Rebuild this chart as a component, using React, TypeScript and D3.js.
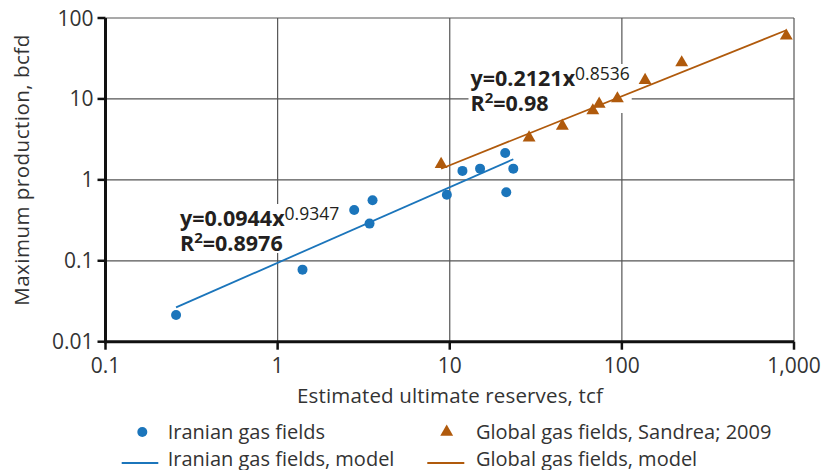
import React, { useLayoutEffect, useRef, useState } from "react";
import * as d3 from "d3";

// Iranian gas fields: estimated ultimate reserves (tcf) and max production (bcfd)
const iranReserves = [0.257, 1.395, 2.785, 3.56, 3.42, 9.62, 11.85, 15.0, 21.0, 21.3, 23.4];
const iranProduction = [0.0214, 0.0777, 0.425, 0.56, 0.288, 0.656, 1.29, 1.375, 2.15, 0.703, 1.375];

// Global gas fields (Sandrea, 2009)
const globalReserves = [8.91, 28.9, 45.1, 67.8, 73.8, 94.2, 136.4, 222.6, 902];
const globalProduction = [1.56, 3.32, 4.64, 7.17, 8.67, 10.1, 17.0, 28.1, 60.1];

// Power-law models y = a * x^b
const iranModel = { a: 0.0944, b: 0.9347, r2: "0.8976" };
const globalModel = { a: 0.2121, b: 0.8536, r2: "0.98" };

const xTicks = [0.1, 1, 10, 100, 1000];
const xTickLabels = ["0.1", "1", "10", "100", "1,000"];
const yTicks = [0.01, 0.1, 1, 10, 100];
const yTickLabels = ["0.01", "0.1", "1", "10", "100"];

const BLUE = "#1b75bb";
const BROWN = "#b05a0c";
const GRID = "#555";
const FONT = "'Open Sans', 'Noto Sans', sans-serif";

const W = 821;
const H = 470;
const M = { left: 105.5, right: 794, top: 18, bottom: 341.7 };

export default function App() {
  const x = d3.scaleLog().domain([0.1, 1000]).range([M.left, M.right]);
  const y = d3.scaleLog().domain([0.01, 100]).range([M.bottom, M.top]);

  const line = d3
    .line<number[]>()
    .x((d) => x(d[0]))
    .y((d) => y(d[1]));

  const modelPts = (m: { a: number; b: number }, xs: number[]) => {
    const [lo, hi] = d3.extent(xs) as [number, number];
    return [lo, hi].map((v) => [v, m.a * Math.pow(v, m.b)]);
  };

  const ann1 = useRef<SVGTextElement>(null);
  const ann2 = useRef<SVGTextElement>(null);
  const [boxes, setBoxes] = useState<any[]>([]);
  useLayoutEffect(() => {
    const b = [ann1.current, ann2.current].map((el) => {
      const bb = el!.getBBox();
      return { x: bb.x - 2, y: bb.y + 3, w: bb.width + 4, h: bb.height - 7 };
    });
    setBoxes(b);
  }, []);

  const tri = d3.symbol().type(d3.symbolTriangle).size(72)();

  return (
    <svg
      width={W}
      height={H}
      style={{ position: "absolute", left: 0, top: 0, background: "#fff" }}
      fontFamily={FONT}
    >
      {/* grid */}
      {xTicks.slice(1).map((t) => (
        <line key={"gx" + t} x1={x(t)} x2={x(t)} y1={M.top} y2={M.bottom} stroke={GRID} strokeWidth={1.2} />
      ))}
      {yTicks.slice(1).map((t) => (
        <line key={"gy" + t} x1={M.left} x2={M.right} y1={y(t)} y2={y(t)} stroke={GRID} strokeWidth={1.2} />
      ))}

      {/* annotation backgrounds */}
      {boxes.map((b, i) => (
        <rect key={"bx" + i} x={b.x} y={b.y} width={b.w} height={b.h} fill="#fff" />
      ))}

      {/* models */}
      <path d={line(modelPts(iranModel, iranReserves))!} stroke={BLUE} strokeWidth={1.8} fill="none" />
      <path d={line(modelPts(globalModel, globalReserves))!} stroke={BROWN} strokeWidth={1.8} fill="none" />

      {/* points */}
      {iranReserves.map((r, i) => (
        <circle key={"c" + i} cx={x(r)} cy={y(iranProduction[i])} r={5} fill={BLUE} />
      ))}
      {globalReserves.map((r, i) => (
        <path key={"t" + i} d={tri!} transform={`translate(${x(r)},${y(globalProduction[i])})`} fill={BROWN} />
      ))}

      {/* axes */}
      <line x1={M.left} x2={M.left} y1={M.top} y2={M.bottom + 1.5} stroke="#111" strokeWidth={3} />
      <line x1={M.left - 1.5} x2={M.right} y1={M.bottom} y2={M.bottom} stroke="#111" strokeWidth={3} />
      {yTicks.map((t, i) => (
        <g key={"yt" + t}>
          <line x1={M.left - 8} x2={M.left} y1={y(t)} y2={y(t)} stroke="#111" strokeWidth={2.5} />
          <text x={M.left - 12} y={y(t)} dy="0.36em" textAnchor="end" fontSize={21} fill="#333">
            {yTickLabels[i]}
          </text>
        </g>
      ))}
      {xTicks.map((t, i) => (
        <g key={"xt" + t}>
          <line x1={x(t)} x2={x(t)} y1={M.bottom} y2={M.bottom + 8} stroke="#111" strokeWidth={2.5} />
          <text x={x(t)} y={373} textAnchor="middle" fontSize={21} fill="#333">
            {xTickLabels[i]}
          </text>
        </g>
      ))}

      {/* axis titles */}
      <text x={450} y={403} textAnchor="middle" fontSize={20.5} letterSpacing={0.15} fill="#333">
        Estimated ultimate reserves, tcf
      </text>
      <text
        transform={`translate(29,170) rotate(-90)`}
        textAnchor="middle"
        fontSize={20.5}
        letterSpacing={0.5}
        fill="#333"
      >
        Maximum production, bcfd
      </text>

      {/* annotations */}
      <text ref={ann1} fontWeight="bold" fontSize={21.5} fill="#231f20">
        <tspan x={180} y={226}>
          y={iranModel.a}x<tspan dy={-6} fontSize={17.5} fontWeight="normal">{iranModel.b}</tspan>
        </tspan>
        <tspan x={180} y={251}>
          R<tspan dy={-8} fontSize={15}>2</tspan>
          <tspan dy={8}>={iranModel.r2}</tspan>
        </tspan>
      </text>
      <text ref={ann2} fontWeight="bold" fontSize={21.5} fill="#231f20">
        <tspan x={470.5} y={86}>
          y={globalModel.a}x<tspan dy={-6} fontSize={17.5} fontWeight="normal">{globalModel.b}</tspan>
        </tspan>
        <tspan x={470.5} y={111}>
          R<tspan dy={-8} fontSize={15}>2</tspan>
          <tspan dy={8}>={globalModel.r2}</tspan>
        </tspan>
      </text>

      {/* legend */}
      <g fontSize={20} fill="#333">
        <circle cx={142.3} cy={432} r={5} fill={BLUE} />
        <text x={167.7} y={438.5}>Iranian gas fields</text>
        <line x1={121.7} x2={158.3} y1={463} y2={463} stroke={BLUE} strokeWidth={1.8} />
        <text x={167.7} y={466}>Iranian gas fields, model</text>
        <path d={tri!} transform="translate(446.7,432)" fill={BROWN} />
        <text x={476} y={438.5}>Global gas fields, Sandrea; 2009</text>
        <line x1={427.3} x2={464.3} y1={463} y2={463} stroke={BROWN} strokeWidth={1.8} />
        <text x={476} y={466}>Global gas fields, model</text>
      </g>
    </svg>
  );
}
